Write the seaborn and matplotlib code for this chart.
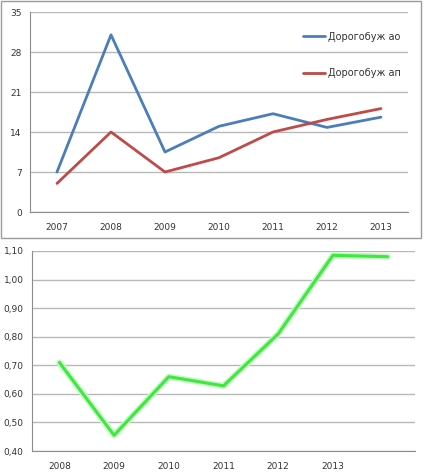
import matplotlib
matplotlib.use("Agg")
import matplotlib.pyplot as plt
import matplotlib.patches as patches
import seaborn as sns
import pandas as pd
import numpy as np

# ---- data ----
years_top = ["2007", "2008", "2009", "2010", "2011", "2012", "2013"]
ao_values = [7.0, 31.0, 10.5, 15.0, 17.2, 14.8, 16.6]
ap_values = [5.0, 14.0, 7.0, 9.5, 14.0, 16.2, 18.1]
series_names = ["Дорогобуж ао", "Дорогобуж ап"]
top_yticks = [0, 7, 14, 21, 28, 35]

years_bottom = ["2008", "2009", "2010", "2011", "2012", "2013", ""]
ratio_values = [0.71, 0.455, 0.66, 0.628, 0.81, 1.085, 1.08]
bottom_yticks = [0.40, 0.50, 0.60, 0.70, 0.80, 0.90, 1.00, 1.10]

sns.set_theme(style="white")
plt.rcParams['font.family'] = ['DejaVu Sans']

W, H = 424, 474
fig = plt.figure(figsize=(W / 100, H / 100), dpi=100)
fig.patch.set_facecolor("white")

def fig_rect(x0, y0, x1, y1):
    return [x0 / W, 1 - y1 / H, (x1 - x0) / W, (y1 - y0) / H]

# frame around top chart
fig.patches.append(patches.Rectangle((1 / W, 1 - 238 / H), 420 / W, 237 / H,
                                     transform=fig.transFigure, fill=False,
                                     edgecolor="#9a9a9a", linewidth=1.0))

grid_c = "#b8b8b8"
axis_c = "#8c8c8c"
text_c = "#333333"
fs = 6.5

def style_axes(ax, ncat, labels, yticks, fmt):
    ax.set_xlim(-0.5, ncat - 0.5)
    ax.set_ylim(yticks[0], yticks[-1])
    ax.set_xticks(range(ncat))
    ax.set_xticklabels(labels)
    ax.set_xticks(np.arange(-0.5, ncat, 1.0), minor=True)
    ax.tick_params(axis="x", which="major", length=0, pad=8, labelsize=fs, labelcolor=text_c)
    ax.tick_params(axis="x", which="minor", length=4, color=axis_c, width=0.8, direction="out")
    ax.set_yticks(yticks)
    ax.set_yticklabels([fmt(v) for v in yticks])
    ax.tick_params(axis="y", length=4, color=axis_c, width=0.8, direction="out",
                   labelsize=fs, labelcolor=text_c, pad=2)
    ax.yaxis.grid(True, color=grid_c, linewidth=1.0)
    ax.set_axisbelow(True)
    for s in ["top", "right"]:
        ax.spines[s].set_visible(False)
    for s in ["left", "bottom"]:
        ax.spines[s].set_color(axis_c)
        ax.spines[s].set_linewidth(0.8)
    ax.set_xlabel("")
    ax.set_ylabel("")
    ax.set_facecolor("white")

# ---- top chart ----
ax1 = fig.add_axes(fig_rect(30, 12, 408, 212))
df_top = pd.DataFrame({
    "x": list(range(len(years_top))) * 2,
    "value": ao_values + ap_values,
    "series": [series_names[0]] * len(years_top) + [series_names[1]] * len(years_top),
})
sns.lineplot(data=df_top, x="x", y="value", hue="series", ax=ax1,
             palette=["#4A7EBB", "#BE4B48"], linewidth=2.0, legend=True)
style_axes(ax1, len(years_top), years_top, top_yticks, lambda v: f"{v:d}")
ax1.legend(loc="upper left", bbox_to_anchor=(0.70, 0.945), frameon=False,
           fontsize=7, labelspacing=2.7, handlelength=2.2, handletextpad=0.3,
           labelcolor=text_c)

# ---- bottom chart ----
ax2 = fig.add_axes(fig_rect(32, 251, 415, 451))
df_bot = pd.DataFrame({"x": list(range(len(ratio_values))), "value": ratio_values})
sns.lineplot(data=df_bot, x="x", y="value", ax=ax2, color="#c8f7c8", linewidth=4.5)
sns.lineplot(data=df_bot, x="x", y="value", ax=ax2, color="#3ee83e", linewidth=2.2)
style_axes(ax2, len(years_bottom), years_bottom, bottom_yticks,
           lambda v: f"{v:.2f}".replace(".", ","))

fig.savefig("out.png", dpi=100, facecolor="white")
